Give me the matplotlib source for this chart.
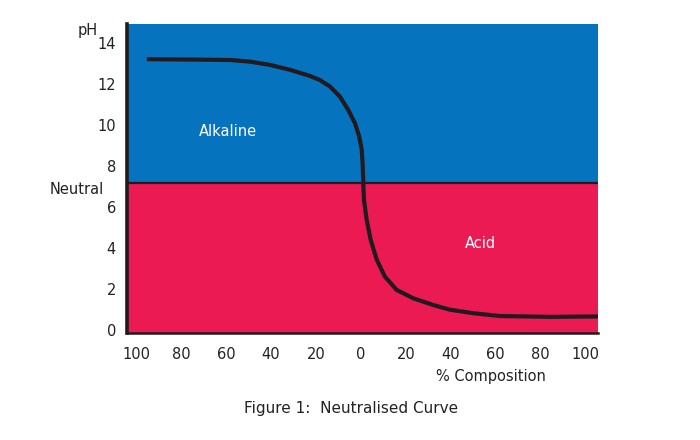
import matplotlib
matplotlib.use("Agg")
import matplotlib.pyplot as plt

# Data
composition = [-95.2, -74.6, -58.2, -49.3, -40.4, -31.5, -22.6, -18.2, -13.7, -9.3, -5.6,
               -2.6, -0.7, 0.4, 0.8, 1.1, 1.4, 2.6, 4.4, 7.1, 10.7, 15.9, 23.3, 32.2,
               39.6, 49.9, 61.9, 84.1, 105.5]
ph_values = [13.22, 13.20, 13.18, 13.10, 12.94, 12.70, 12.40, 12.20, 11.88, 11.39, 10.74,
             10.09, 9.43, 8.80, 8.13, 7.15, 6.34, 5.36, 4.38, 3.41, 2.59, 1.94, 1.53, 1.20,
             0.97, 0.80, 0.66, 0.62, 0.64]
neutral_ph = 7.15
x_ticks = [-100, -80, -60, -40, -20, 0, 20, 40, 60, 80, 100]
x_tick_labels = ["100", "80", "60", "40", "20", "0", "20", "40", "60", "80", "100"]
y_ticks = [0, 2, 4, 6, 8, 10, 12, 14]

plt.rcParams['font.family'] = ['DejaVu Sans']

BLUE = "#0673BE"
RED = "#EC1A52"
DARK = "#221A1E"
TEXT = "#222222"

fig = plt.figure(figsize=(7, 4.4), dpi=100)
ax = fig.add_axes([127/700, 1-333/440, (598-127)/700, (333-24)/440])
xmin, xmax = -104, 105.5
ymin, ymax = -0.17, 14.94
ax.set_xlim(xmin, xmax)
ax.set_ylim(ymin, ymax)

ax.axhspan(neutral_ph, ymax, color=BLUE, zorder=0, lw=0)
ax.axhspan(ymin, neutral_ph, color=RED, zorder=0, lw=0)
ax.axhline(neutral_ph, color=DARK, lw=1.6, zorder=1)

ax.plot(composition, ph_values, color=DARK, lw=3.0, solid_capstyle='butt',
        solid_joinstyle='round', zorder=2, antialiased=True)

for s in ['top', 'right']:
    ax.spines[s].set_visible(False)
ax.spines['left'].set_color(DARK)
ax.spines['left'].set_linewidth(2.6)
ax.spines['bottom'].set_color(DARK)
ax.spines['bottom'].set_linewidth(1.8)

ax.set_xticks(x_ticks)
ax.set_xticklabels(x_tick_labels)
ax.set_yticks(y_ticks)
ax.tick_params(axis='both', length=0, labelsize=10.5, colors=TEXT)
ax.tick_params(axis='x', pad=10)
ax.tick_params(axis='y', pad=8)

ax.text(-59, 9.7, "Alkaline", color="white", fontsize=10.5, ha='center', va='center')
ax.text(53, 4.2, "Acid", color="white", fontsize=10.5, ha='center', va='center')

fig.text(88/700, 1-31/440, "pH", fontsize=10.5, ha='center', va='center', color=TEXT)
fig.text(77/700, 1-189/440, "Neutral", fontsize=10.5, ha='center', va='center', color=TEXT)
fig.text(491/700, 1-376/440, "% Composition", fontsize=10.5, ha='center', va='center', color=TEXT)
fig.text(351/700, 1-408/440, "Figure 1:  Neutralised Curve", fontsize=11, ha='center', va='center', color=TEXT)

fig.savefig("out.png", dpi=100, facecolor='white')
